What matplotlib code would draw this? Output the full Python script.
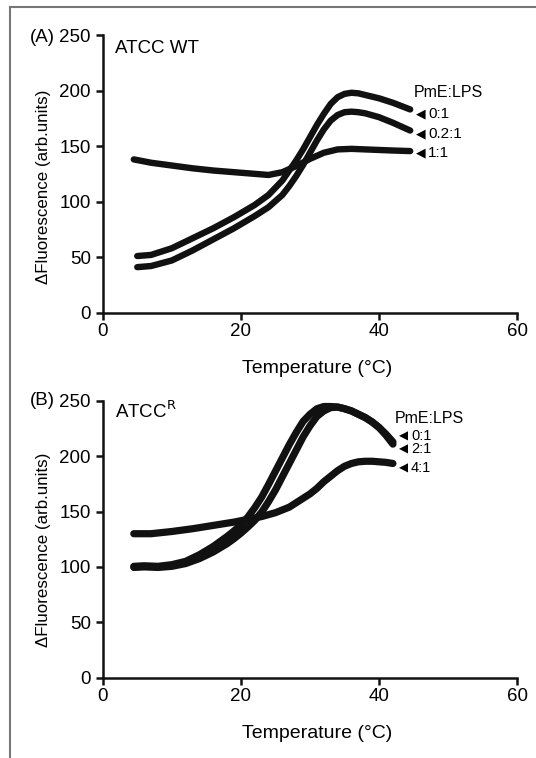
import matplotlib.pyplot as plt
from matplotlib.lines import Line2D

plt.rcParams['font.family'] = ['Liberation Sans', 'DejaVu Sans']

# Panel A: ATCC WT
temp_a = [5, 7, 10, 13, 16, 19, 22, 24, 26, 27, 28, 29, 30, 31, 32, 33, 34, 35, 36, 37, 38, 40, 42, 44.5]
a_0_1 = [51, 52, 58, 67, 76, 86, 97, 106, 119, 128, 137, 147, 158, 169, 179, 188, 194, 197, 198, 197.5, 196, 193, 189, 183]
a_02_1 = [41, 42, 47, 56, 66, 76, 87, 95, 106, 114, 123, 133, 144, 155, 165, 173, 178, 180.5, 181, 180.5, 179.5, 176, 171, 164]
temp_a11 = [4.5, 7, 10, 13, 16, 19, 22, 24, 26, 28, 30, 32, 34, 36, 38, 40, 42, 44.5]
a_1_1 = [138, 135, 132.5, 130, 128, 126.5, 125, 124, 126.5, 132, 138.5, 144, 147, 147.5, 147, 146.5, 146, 145.5]

# Panel B: ATCC R
temp_b = [4.5, 6, 8, 10, 12, 14, 16, 18, 19, 20, 21, 22, 23, 24, 25, 26, 27, 28, 29, 30, 31, 32, 33, 34,
          35, 36, 37, 38, 39, 40, 41, 42]
b_0_1 = [100.5, 101, 100.5, 102, 105, 111, 118.5, 127.5, 132.5, 138, 145, 153.5, 163, 174.5, 186.5, 198.5, 210.5,
         221.5, 231.5, 238, 243, 245, 245, 244.5, 243, 241, 238, 235, 231, 226, 220, 213]
b_2_1 = [99.5, 100, 99.5, 100.5, 103, 107.5, 113.5, 121, 125.5, 130.5, 136, 142, 149.5, 159, 169.5, 181.5, 193.5,
         205.5, 217.5, 227.5, 236, 241, 244, 244.5, 243, 241, 238, 235, 231, 226, 219, 211]
temp_b41 = [4.5, 7, 10, 13, 16, 19, 21, 23, 25, 27, 29, 30, 31, 32, 33, 34, 35, 36, 37, 38, 39, 40, 41, 42]
b_4_1 = [130, 130, 132, 134.5, 137.5, 140.5, 143, 145.5, 149, 154, 162, 166, 171, 177, 182, 187, 191, 193.5,
         195, 195.5, 195.5, 195, 194.5, 193.5]

labels_a = ['0:1', '0.2:1', '1:1']
label_y_a = [179, 161, 144]
labels_b = ['0:1', '2:1', '4:1']
label_y_b = [218, 206.5, 189.5]

fig = plt.figure(figsize=(5.36, 7.58), dpi=100)
ax_a = fig.add_axes([0.1916, 0.5875, 0.7735, 0.3663])
ax_b = fig.add_axes([0.1916, 0.1062, 0.7735, 0.3648])

kw = dict(color='#111111', solid_capstyle='round', solid_joinstyle='round')
ax_a.plot(temp_a, a_0_1, lw=4.6, **kw)
ax_a.plot(temp_a, a_02_1, lw=4.6, **kw)
ax_a.plot(temp_a11, a_1_1, lw=4.6, **kw)
ax_b.plot(temp_b, b_0_1, lw=5.2, **kw)
ax_b.plot(temp_b, b_2_1, lw=5.2, **kw)
ax_b.plot(temp_b41, b_4_1, lw=5.2, **kw)

for ax, ylab_y in ((ax_a, 0.453), (ax_b, 0.461)):
    ax.set_xlim(0, 60)
    ax.set_ylim(0, 250)
    ax.set_xticks([0, 20, 40, 60])
    ax.set_yticks([0, 50, 100, 150, 200, 250])
    for s in ('top', 'right'):
        ax.spines[s].set_visible(False)
    for s in ('left', 'bottom'):
        ax.spines[s].set_linewidth(1.8)
        ax.spines[s].set_color('#111111')
    ax.tick_params(width=1.8, length=5, labelsize=13.5, color='#111111')
    ax.tick_params(axis='x', pad=2.5)
    ax.tick_params(axis='y', pad=3.5)
    ax.set_xlabel('Temperature (°C)', fontsize=14)
    ax.set_ylabel('ΔFluorescence (arb.units)', fontsize=12.2)
    ax.xaxis.set_label_coords(0.516, -0.172)
    ax.yaxis.set_label_coords(-0.125, ylab_y)

ax_a.text(1.8, 238, 'ATCC WT', fontsize=13.5, va='center')
ax_b.text(1.8, 241, 'ATCC$^{\\mathrm{R}}$', fontsize=13.5, va='center')
fig.text(0.056, 0.950, '(A)', fontsize=13.5, va='center')
fig.text(0.056, 0.471, '(B)', fontsize=13.5, va='center')

ax_a.text(50, 198.5, 'PmE:LPS', fontsize=11.5, ha='center', va='center')
for lab, yy in zip(labels_a, label_y_a):
    ax_a.text(46.0, yy, '◀', fontsize=9, ha='center', va='center', family='DejaVu Sans')
    ax_a.text(47.1, yy, lab, fontsize=11, va='center')

ax_b.text(47.3, 234, 'PmE:LPS', fontsize=11.5, ha='center', va='center')
for lab, yy in zip(labels_b, label_y_b):
    ax_b.text(43.5, yy, '◀', fontsize=8.5, ha='center', va='center', family='DejaVu Sans')
    ax_b.text(44.6, yy, lab, fontsize=10.5, va='center')

# thin frame lines at the left and top edges
fig.add_artist(Line2D([10 / 536, 10 / 536], [0, 1 - 7 / 758], color='#777777', lw=1.5))
fig.add_artist(Line2D([10 / 536, 1], [1 - 7 / 758, 1 - 7 / 758], color='#777777', lw=1.5))

fig.savefig('out.png', dpi=100)
